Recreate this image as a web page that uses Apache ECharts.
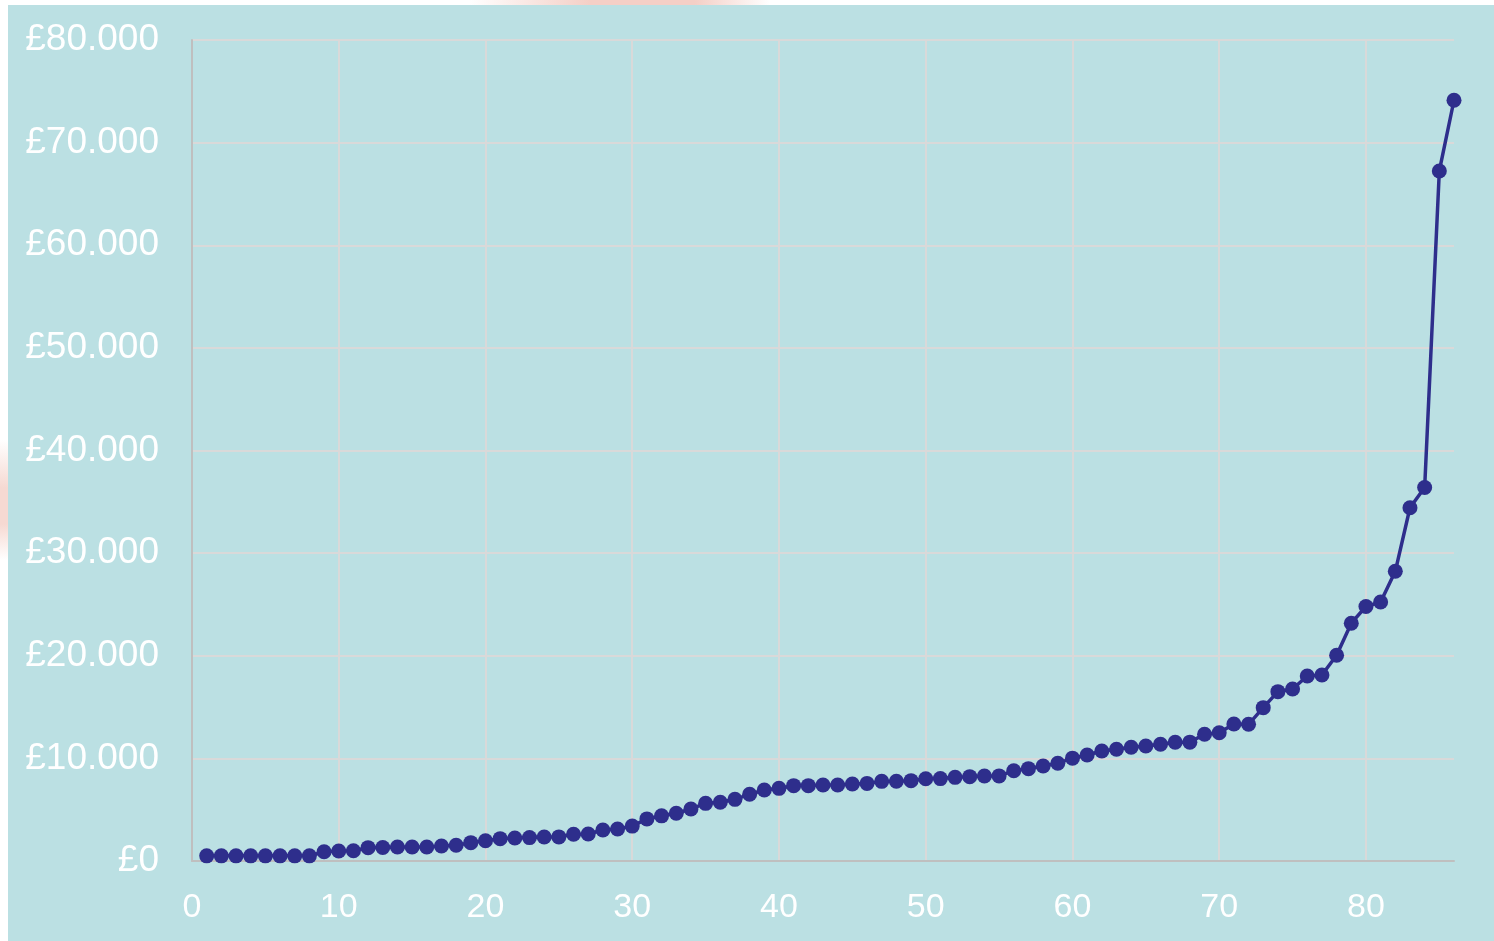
<!DOCTYPE html>
<html>
<head>
<meta charset="utf-8">
<script src="https://cdn.jsdelivr.net/npm/echarts@6/dist/echarts.min.js"></script>
<style>
    html, body { margin: 0; padding: 0; background: #ffffff; width: 1494px; height: 941px; overflow: hidden; position: relative; }
    #chart { position: absolute; left: 8px; top: 5px; width: 1486px; height: 936px; }
    .blot { position: absolute; }
</style>
</head>
<body>
<div class="blot" style="left:470px; top:0; width:300px; height:5px; background: linear-gradient(to right, rgba(246,214,207,0), #f4cfc6 40%, #f4cfc6 75%, rgba(246,214,207,0));"></div>
<div class="blot" style="left:0; top:440px; width:8px; height:120px; background: linear-gradient(to bottom, rgba(246,214,207,0), #f6d9d2 40%, #f6d9d2 70%, rgba(246,214,207,0));"></div>
<div id="chart"></div>
<script>
// rank of each entry (x) and its amount in pounds (y)
var ranks = [1, 2, 3, 4, 5, 6, 7, 8, 9, 10,
    11, 12, 13, 14, 15, 16, 17, 18, 19, 20,
    21, 22, 23, 24, 25, 26, 27, 28, 29, 30,
    31, 32, 33, 34, 35, 36, 37, 38, 39, 40,
    41, 42, 43, 44, 45, 46, 47, 48, 49, 50,
    51, 52, 53, 54, 55, 56, 57, 58, 59, 60,
    61, 62, 63, 64, 65, 66, 67, 68, 69, 70,
    71, 72, 73, 74, 75, 76, 77, 78, 79, 80,
    81, 82, 83, 84, 85, 86];
var amounts = [500, 500, 500, 500, 500, 500, 500, 500, 900, 970,
    1000, 1300, 1320, 1360, 1360, 1370, 1460, 1530, 1790, 1980,
    2180, 2240, 2280, 2340, 2350, 2600, 2630, 3020, 3120, 3400,
    4100, 4400, 4650, 5070, 5620, 5720, 6010, 6500, 6920, 7080,
    7340, 7340, 7400, 7400, 7500, 7560, 7760, 7770, 7830, 8020,
    8030, 8150, 8220, 8280, 8290, 8800, 9000, 9260, 9520, 10020,
    10330, 10720, 10890, 11080, 11210, 11370, 11570, 11580, 12350, 12500,
    13350, 13320, 14940, 16500, 16760, 18030, 18130, 20050, 23170, 24800,
    25240, 28230, 34420, 36390, 67240, 74130];
var xTicks = [0, 10, 20, 30, 40, 50, 60, 70, 80];
var yTicks = [0, 10000, 20000, 30000, 40000, 50000, 60000, 70000, 80000];

var points = ranks.map(function (r, i) { return [r, amounts[i]]; });

function pounds(v) {
    return '£' + String(v).replace(/\B(?=(\d{3})+(?!\d))/g, '.');
}

var chart = echarts.init(document.getElementById('chart'));
var option = {
    backgroundColor: '#bbe0e3',
    animation: false,
    grid: {
        left: 184,
        right: 40,
        top: 35,
        bottom: 80
    },
    xAxis: {
        type: 'value',
        min: xTicks[0],
        max: 86,
        interval: 10,
        axisLine: { show: true, lineStyle: { color: '#bfbfbf', width: 2 } },
        axisTick: { show: false },
        splitLine: { show: true, showMinLine: false, showMaxLine: false, lineStyle: { color: '#d9d9d9', width: 2 } },
        axisLabel: {
            color: '#ffffff',
            fontFamily: 'Liberation Sans, Arial, sans-serif',
            fontSize: 34,
            margin: 30,
            showMaxLabel: false,
            formatter: function (v) { return xTicks.indexOf(v) >= 0 ? String(v) : ''; }
        }
    },
    yAxis: {
        type: 'value',
        min: yTicks[0],
        max: yTicks[yTicks.length - 1],
        interval: 10000,
        axisLine: { show: true, lineStyle: { color: '#bfbfbf', width: 2 } },
        axisTick: { show: false },
        splitLine: { show: true, showMinLine: false, lineStyle: { color: '#d9d9d9', width: 2 } },
        axisLabel: {
            color: '#ffffff',
            fontFamily: 'Liberation Sans, Arial, sans-serif',
            fontSize: 37,
            margin: 33,
            formatter: pounds
        }
    },
    series: [
        {
            type: 'line',
            data: points,
            symbol: 'circle',
            symbolSize: 15,
            lineStyle: { color: '#2e2e8c', width: 3.5 },
            itemStyle: { color: '#2e2e8c' }
        }
    ]
};
chart.setOption(option);

window.onresize = chart.resize;
</script>
</body>
</html>
